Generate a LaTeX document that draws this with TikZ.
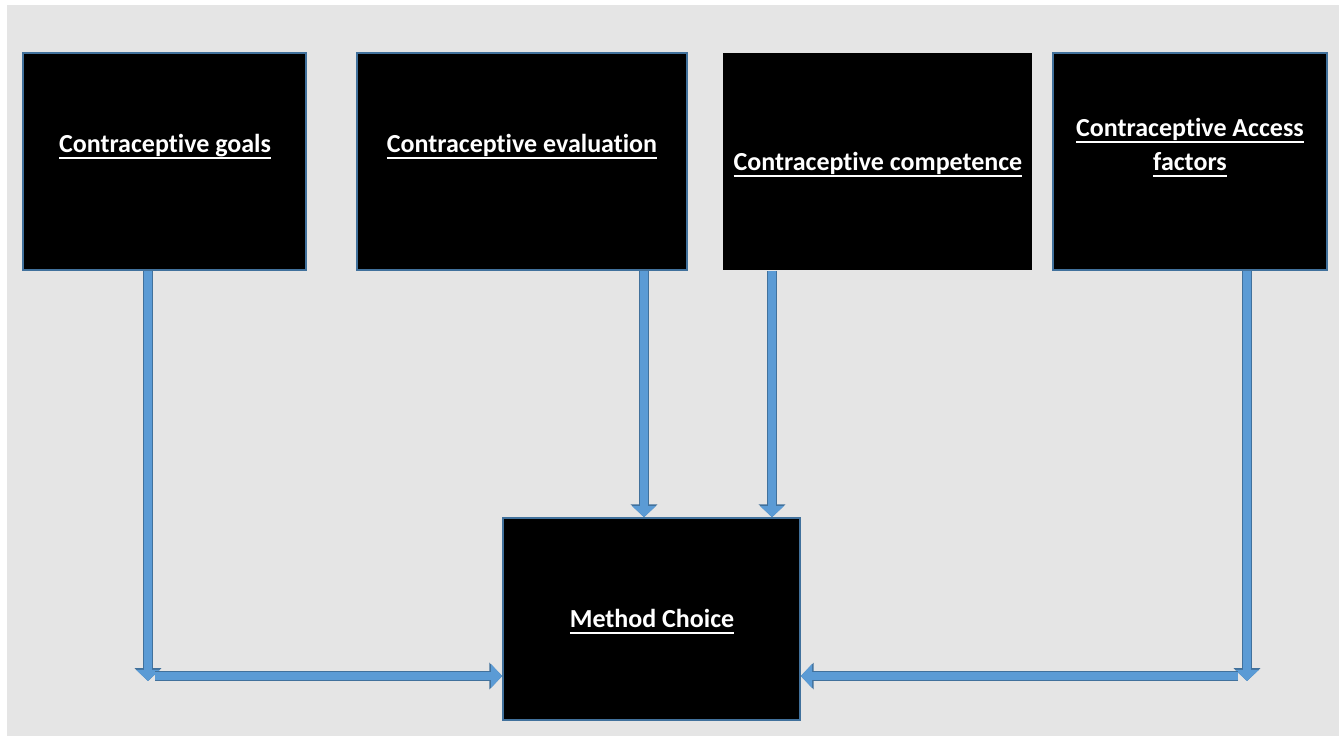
\documentclass[tikz,border=0pt]{standalone}
\usepackage{fontspec}
\setmainfont[Ligatures=NoCommon]{Carlito}
\usetikzlibrary{arrows.meta}
\definecolor{bggray}{HTML}{E5E5E5}
\definecolor{arrowblue}{HTML}{5B9BD5}
\definecolor{arrowedge}{HTML}{41719C}
\newcommand{\ulbox}[1]{\setbox0\hbox{#1}\rlap{\rule[-3.3pt]{\wd0}{1pt}}\box0}
\tikzset{
  box/.style={draw=arrowedge, line width=0.8pt, fill=black, inner sep=0pt},
  lbl/.style={text=white, font=\fontsize{13}{17}\selectfont\bfseries, align=center},
  blockarr/.style={draw=arrowblue, line width=3.8pt, -{Triangle[width=11.6pt,length=5.6pt]},
    preaction={draw=arrowedge, line width=5pt, -{Triangle[width=13pt,length=6.4pt]}}}
}
\begin{document}
\begin{tikzpicture}[x=0.5pt,y=-0.5pt]
\useasboundingbox (0,0) rectangle (1344,736);
\fill[bggray] (7,5) rectangle (1339,736);
% boxes
\node[box, minimum width=141.5pt, minimum height=108.5pt] (goals) at (164.5,161.5) {};
\node[box, minimum width=165pt, minimum height=108.5pt] (eval) at (522,161.5) {};
\node[box, draw=none, minimum width=154.5pt, minimum height=108.5pt] (comp) at (877.5,161.5) {};
\node[box, minimum width=137pt, minimum height=108.5pt] (access) at (1190,161.5) {};
\node[box, minimum width=148.5pt, minimum height=101pt] (method) at (651.5,619) {};
% labels
\node[lbl, anchor=base] (tgoals) at (165,152) {\ulbox{Contraceptive goals}};
\node[lbl, anchor=base] (teval) at (522,152) {\ulbox{Contraceptive evaluation}};
\node[lbl, anchor=base] (tcomp) at (878,170) {\ulbox{Contraceptive competence}};
\node[lbl] (taccess) at (1190,148) {\ulbox{Contraceptive Access}\\\ulbox{factors}};
\node[lbl, anchor=base] (tmethod) at (652,627) {\ulbox{Method Choice}};
% arrows
\coordinate (g1) at (148,681);
\coordinate (h1) at (155,676);
\coordinate (e1) at (644,518);
\coordinate (c1) at (772,518);
\coordinate (g4) at (1247,681);
\coordinate (h4) at (1238,676);
\draw[blockarr] (goals.south -| g1) -- (g1);
\draw[blockarr] (h1) -- (h1 -| method.west);
\draw[blockarr] (eval.south -| e1) -- (method.north -| e1);
\draw[blockarr] (comp.south -| c1) -- (method.north -| c1);
\draw[blockarr] (access.south -| g4) -- (g4);
\draw[blockarr] (h4) -- (h4 -| method.east);
\end{tikzpicture}
\end{document}
